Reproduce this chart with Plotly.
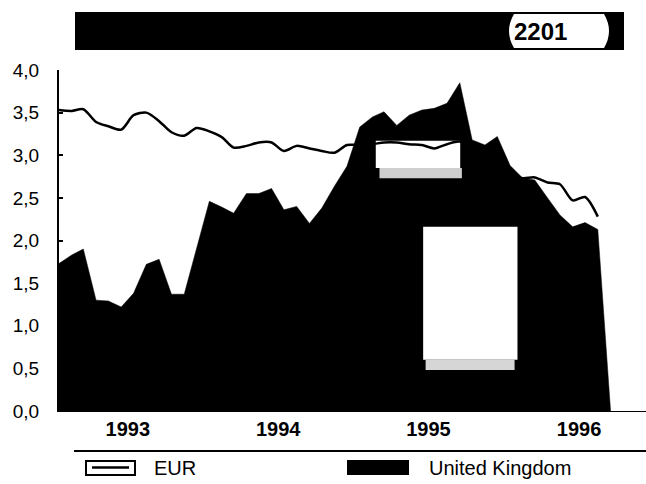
import pandas as pd
import plotly.graph_objects as go

# Monthly observations, January 1993 onwards
months = pd.date_range("1993-01-01", periods=45, freq="MS")
years = [1993, 1994, 1995, 1996]

eur = [3.53, 3.52, 3.54, 3.39, 3.34, 3.30, 3.47, 3.50, 3.40, 3.27, 3.23, 3.32,
       3.28, 3.21, 3.09, 3.11, 3.15, 3.15, 3.05, 3.11, 3.08, 3.05, 3.03, 3.12,
       3.12, 3.13, 3.15, 3.15, 3.13, 3.12, 3.08, 3.13, 3.16, 3.05, 2.95, 2.85,
       2.78, 2.73, 2.74, 2.68, 2.66, 2.47, 2.51, 2.28]

uk = [1.73, 1.83, 1.90, 1.30, 1.29, 1.22, 1.38, 1.72, 1.78, 1.37, 1.37, 1.92,
      2.46, 2.39, 2.32, 2.55, 2.55, 2.61, 2.36, 2.40, 2.20, 2.38, 2.64, 2.87,
      3.33, 3.45, 3.51, 3.35, 3.47, 3.53, 3.55, 3.61, 3.85, 3.18, 3.12, 3.22,
      2.88, 2.73, 2.71, 2.50, 2.30, 2.16, 2.21, 2.13]

series_names = ["EUR", "United Kingdom"]
header_code = "2201"

W, H = 646, 484
ML, MR, MT, MB = 59, 0, 70, 73
PW, PH = W - ML - MR, H - MT - MB


def fx(p):
    """pixel x -> paper x"""
    return (p - ML) / PW


def fy(p):
    """pixel y -> paper y"""
    return (H - MB - p) / PH


fig = go.Figure()

# United Kingdom: filled black area, closing down to zero one month after the last value
uk_x = list(months[:len(uk)]) + [months[len(uk)]]
uk_y = uk + [0.0]
fig.add_trace(go.Scatter(
    x=uk_x, y=uk_y, name=series_names[1], mode="lines",
    line=dict(color="black", width=0.5), fill="tozeroy", fillcolor="black",
    hoverinfo="skip",
))

# Blank boxes cut into the black area
blank_boxes = [
    (("1995-02-09", "1995-09-02"), (2.85, 3.17), "white"),
    (("1995-02-18", "1995-09-06"), (2.73, 2.85), "#cfcfcf"),
    (("1995-06-04", "1996-01-19"), (0.60, 2.16), "white"),
    (("1995-06-10", "1996-01-12"), (0.48, 0.60), "#d6d6d6"),
]
for (xa, xb), (ya, yb), col in blank_boxes:
    fig.add_trace(go.Scatter(
        x=[xa, xb, xb, xa, xa], y=[ya, ya, yb, yb, ya], mode="lines",
        line=dict(width=0), fill="toself", fillcolor=col,
        hoverinfo="skip", showlegend=False,
    ))

# EUR: smooth line
fig.add_trace(go.Scatter(
    x=list(months[:len(eur)]), y=eur, name=series_names[0], mode="lines",
    line=dict(color="black", width=2.5, shape="spline", smoothing=0.8),
    hoverinfo="skip",
))

# Year labels centred under each year's twelve months
tick_pos = [pd.Timestamp(f"{y}-01-01") + (pd.Timestamp(f"{y}-12-01") - pd.Timestamp(f"{y}-01-01")) / 2
            for y in years]

shapes = [
    # header bar
    dict(type="rect", xref="paper", yref="paper", x0=fx(75), x1=fx(624), y0=fy(50), y1=fy(12),
         fillcolor="black", line=dict(width=0), layer="above"),
    # rounded white badge
    dict(type="path", xref="paper", yref="paper", layer="above",
         path=(f"M {fx(514)},{fy(14)} L {fx(604)},{fy(14)} "
               f"Q {fx(614)},{fy(31)} {fx(604)},{fy(48)} L {fx(514)},{fy(48)} "
               f"Q {fx(504)},{fy(31)} {fx(514)},{fy(14)} Z"),
         fillcolor="white", line=dict(width=0)),
    # legend rule
    dict(type="line", xref="paper", yref="paper", x0=fx(74), x1=fx(646), y0=fy(451), y1=fy(451),
         line=dict(color="black", width=2)),
    # EUR key: outlined box with inner line
    dict(type="rect", xref="paper", yref="paper", x0=fx(86), x1=fx(135), y0=fy(475), y1=fy(461),
         fillcolor="white", line=dict(color="black", width=2)),
    dict(type="line", xref="paper", yref="paper", x0=fx(92), x1=fx(129), y0=fy(467.5), y1=fy(467.5),
         line=dict(color="black", width=2.5)),
    # United Kingdom key: solid box
    dict(type="rect", xref="paper", yref="paper", x0=fx(347), x1=fx(409), y0=fy(475), y1=fy(460),
         fillcolor="black", line=dict(width=0)),
]

annotations = [
    dict(text=f"<b>{header_code}</b>", xref="paper", yref="paper", x=fx(540), y=fy(31),
         showarrow=False, font=dict(size=24, color="black"), xanchor="center", yanchor="middle"),
    dict(text=series_names[0], xref="paper", yref="paper", x=fx(152), y=fy(468),
         showarrow=False, font=dict(size=20, color="black"), xanchor="left", yanchor="middle"),
    dict(text=series_names[1], xref="paper", yref="paper", x=fx(427), y=fy(468),
         showarrow=False, font=dict(size=20, color="black"), xanchor="left", yanchor="middle"),
]

fig.update_layout(
    width=W, height=H,
    margin=dict(l=ML, r=MR, t=MT, b=MB),
    paper_bgcolor="white", plot_bgcolor="white",
    separators=",.",
    showlegend=False,
    font=dict(family="Liberation Sans, Arial, sans-serif", color="black"),
    shapes=shapes, annotations=annotations,
    xaxis=dict(
        range=["1993-01-01", "1996-11-26"], showgrid=False, zeroline=False,
        showline=True, linecolor="black", linewidth=1, ticks="",
        tickvals=tick_pos, ticktext=[f"<b>{y}</b>" for y in years],
        tickfont=dict(size=20, color="black"), ticklabelstandoff=0,
    ),
    yaxis=dict(
        range=[0, 4], dtick=0.5, tickformat=".1f", showgrid=False, zeroline=False,
        showline=True, linecolor="black", linewidth=2, ticks="inside", ticklen=4,
        tickwidth=1.5, tickcolor="black", tickfont=dict(size=19, color="black"),
        ticklabelstandoff=14,
    ),
)

fig.write_html("out.html")
